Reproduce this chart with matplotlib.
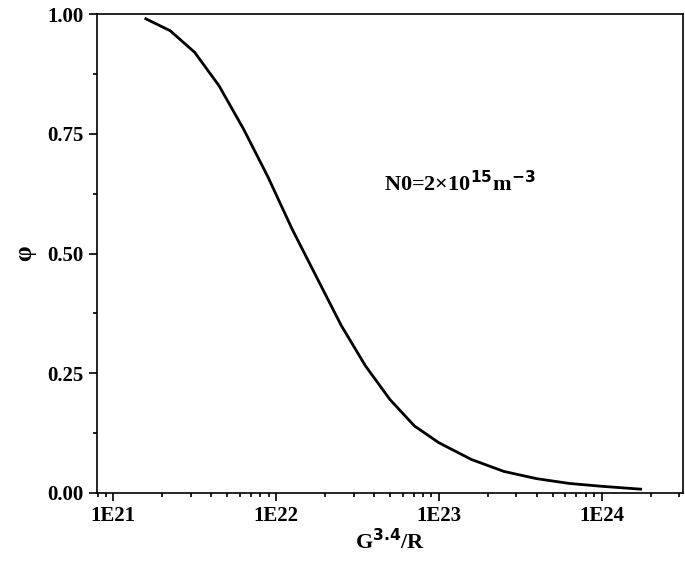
import matplotlib
matplotlib.use("Agg")
import matplotlib.pyplot as plt
import numpy as np
from matplotlib.ticker import FixedLocator, FixedFormatter, NullFormatter

log_x = [21.2, 21.35, 21.5, 21.65, 21.8, 21.95, 22.1, 22.25, 22.4, 22.55, 22.7, 22.85, 23.0, 23.2, 23.4, 23.6, 23.8, 24.0, 24.24]
phi = [0.99, 0.965, 0.92, 0.85, 0.76, 0.66, 0.55, 0.45, 0.35, 0.265, 0.195, 0.14, 0.105, 0.07, 0.045, 0.03, 0.02, 0.014, 0.008]
x_ticks = [1e21, 1e22, 1e23, 1e24]
x_labels = ["1E21", "1E22", "1E23", "1E24"]
y_ticks = [0.0, 0.25, 0.5, 0.75, 1.0]

plt.rcParams["font.family"] = "Liberation Serif"
plt.rcParams["font.weight"] = "bold"
fig = plt.figure(figsize=(6.85, 5.71), dpi=100)
ax = fig.add_axes([97/685, 1-493/571, 586/685, 479/571])
ax.plot(10.0**np.array(log_x), phi, color="black", lw=2)
ax.set_xscale("log")
ax.set_xlim(10**20.9, 10**24.5)
ax.set_ylim(0, 1)
ax.xaxis.set_major_locator(FixedLocator(x_ticks))
ax.xaxis.set_major_formatter(FixedFormatter(x_labels))
minors = [float(m) * 10.0**e for e in range(20, 25) for m in range(2, 10)]
ax.xaxis.set_minor_locator(FixedLocator(minors))
ax.xaxis.set_minor_formatter(NullFormatter())
ax.set_yticks(y_ticks)
ax.set_yticklabels([f"{v:.2f}" for v in y_ticks])
ax.set_yticks([0.125, 0.375, 0.625, 0.875], minor=True)
ax.tick_params(which="both", direction="out", width=1.2, labelsize=15)
ax.tick_params(which="major", length=6)
ax.tick_params(which="minor", length=3)
for s in ax.spines.values():
    s.set_linewidth(1.2)
ax.set_xlabel("G$^{\\mathbf{3.4}}$/R", fontsize=16, fontweight="bold", labelpad=2)
ax.set_ylabel("φ", fontsize=18, fontweight="bold", labelpad=8)
ax.text(0.49, 0.63, "N0=2×10$^{\\mathbf{15}}$m$^{\\mathbf{-3}}$", transform=ax.transAxes, fontsize=16, fontweight="bold")
fig.savefig("out.png", dpi=100)
